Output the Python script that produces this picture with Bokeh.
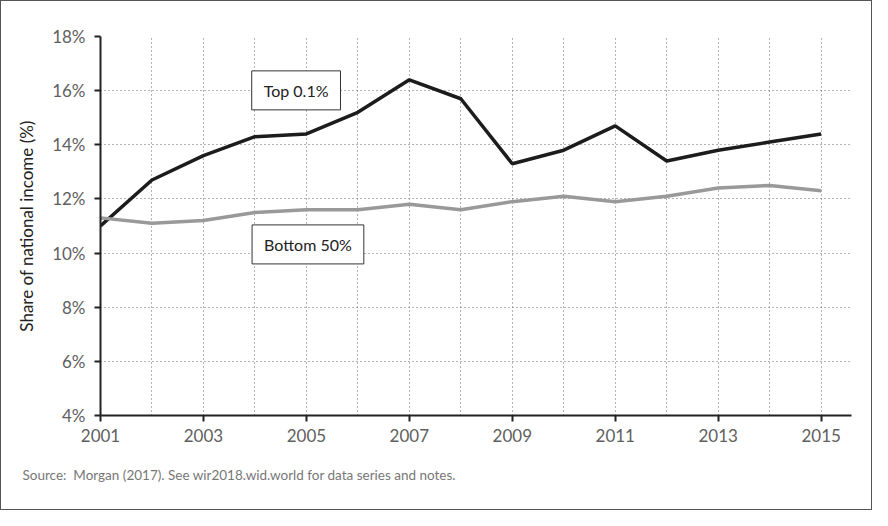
from bokeh.plotting import figure
from bokeh.models import Range1d, FixedTicker, PrintfTickFormatter, Label, Title
from bokeh.embed import file_html
from bokeh.resources import INLINE

years = list(range(2001, 2016))
top01 = [11.0, 12.7, 13.6, 14.3, 14.4, 15.2, 16.4, 15.7, 13.3, 13.8, 14.7, 13.4, 13.8, 14.1, 14.4]
bottom50 = [11.3, 11.1, 11.2, 11.5, 11.6, 11.6, 11.8, 11.6, 11.9, 12.1, 11.9, 12.1, 12.4, 12.5, 12.3]
x_ticks = [2001, 2003, 2005, 2007, 2009, 2011, 2013, 2015]
x_minor = [2002, 2004, 2006, 2008, 2010, 2012, 2014]
y_ticks = [4, 6, 8, 10, 12, 14, 16, 18]
source_text = "Source:\u00a0 Morgan (2017). See wir2018.wid.world for data series and notes."

FONT = "Lato"

p = figure(width=872, height=510, output_backend="svg", toolbar_location=None,
           x_range=Range1d(2001, 2015.59), y_range=Range1d(4, 18),
           min_border_left=99, min_border_top=35, min_border_right=22, min_border_bottom=96,
           styles={"border": "1px solid #555"})
p.outline_line_color = None
p.background_fill_color = "white"
p.border_fill_color = "white"

p.line(years, top01, line_color="#1c1c1c", line_width=3.5)
p.line(years, bottom50, line_color="#999999", line_width=3.5)

p.xaxis.ticker = FixedTicker(ticks=x_ticks, minor_ticks=x_minor)
p.yaxis.ticker = FixedTicker(ticks=y_ticks)
p.yaxis.formatter = PrintfTickFormatter(format="%d%%")

for ax in (p.xaxis[0], p.yaxis[0]):
    ax.axis_line_color = "#222222"
    ax.axis_line_width = 2
    ax.major_tick_line_color = "#222222"
    ax.major_tick_line_width = 2
    ax.major_tick_out = 6
    ax.major_tick_in = 0
    ax.minor_tick_line_color = None
    ax.major_label_text_font = FONT
    ax.major_label_text_font_size = "17px"
    ax.major_label_text_color = "#606060"

p.xaxis.major_label_standoff = 7
p.yaxis.major_label_standoff = 9
p.yaxis.axis_label = "Share of national income (%)"
p.yaxis.axis_label_text_font = FONT
p.yaxis.axis_label_text_font_size = "17px"
p.yaxis.axis_label_text_font_style = "normal"
p.yaxis.axis_label_text_color = "#222222"
p.yaxis.axis_label_standoff = 12

for g in (p.xgrid[0], p.ygrid[0]):
    g.grid_line_color = "#666666"
    g.grid_line_dash = "1 3"
    g.grid_line_width = 1
p.xgrid.minor_grid_line_color = "#666666"
p.xgrid.minor_grid_line_dash = "1 3"
p.xgrid.minor_grid_line_width = 1

for txt, x, y in [("Top 0.1%", 2004.80, 16.01), ("Bottom 50%", 2005.03, 10.32)]:
    p.add_layout(Label(x=x, y=y, text=txt, text_align="center", text_baseline="middle",
                       text_font=FONT, text_font_size="16px", text_color="#222222",
                       background_fill_color="white", border_line_color="#333333",
                       border_line_width=1, padding=(12, 10)))

p.add_layout(Title(text=source_text, align="left", offset=-78, standoff=41,
                   text_font=FONT, text_font_size="13.5px", text_font_style="normal",
                   text_color="#777777"), "below")

open("out.html", "w").write(file_html(p, INLINE))
